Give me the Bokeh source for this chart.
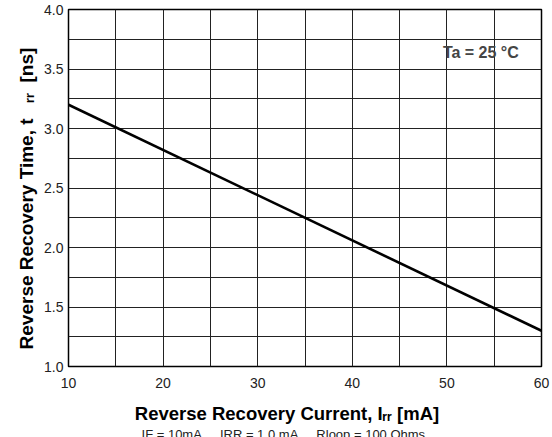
from bokeh.plotting import figure
from bokeh.models import FixedTicker, Label, Range1d, NumeralTickFormatter, LinearAxis
from bokeh.embed import file_html
from bokeh.resources import INLINE

# data
irr = [10, 60]          # Reverse recovery current [mA]
trr = [3.2, 1.3]        # Reverse recovery time [ns]
x_ticks = [10, 20, 30, 40, 50, 60]
y_ticks = [1.0, 1.5, 2.0, 2.5, 3.0, 3.5, 4.0]
x_grid = [15, 20, 25, 30, 35, 40, 45, 50, 55]
y_grid = [1.25, 1.5, 1.75, 2.0, 2.25, 2.5, 2.75, 3.0, 3.25, 3.5, 3.75]

FONT = "Liberation Sans"
NB = "\u00a0"

p = figure(width=552, height=437, output_backend="svg", toolbar_location=None,
           x_range=Range1d(10, 60), y_range=Range1d(1.0, 4.0),
           min_border_left=68, min_border_right=11, min_border_top=9, min_border_bottom=71,
           frame_width=473, frame_height=357)
p.background_fill_color = "white"
p.border_fill_color = "white"
p.outline_line_color = "black"
p.outline_line_width = 1.5

p.xaxis.ticker = FixedTicker(ticks=x_ticks)
p.yaxis.ticker = FixedTicker(ticks=y_ticks)
p.yaxis.formatter = NumeralTickFormatter(format="0.0")
for ax in (p.xaxis[0], p.yaxis[0]):
    ax.axis_line_color = None
    ax.major_tick_line_color = None
    ax.minor_tick_line_color = None
    ax.major_tick_out = 0
    ax.major_tick_in = 0
    ax.major_label_text_font = FONT
    ax.major_label_text_font_size = "14px"
    ax.major_label_text_color = "#222222"
    ax.axis_label_text_font = FONT
    ax.axis_label_text_font_style = "bold"
    ax.axis_label_text_color = "black"
p.xaxis.axis_label_text_font_size = "18.5px"
p.yaxis.axis_label_text_font_size = "19px"
p.xaxis.major_label_standoff = 11
p.yaxis.major_label_standoff = 5
p.xaxis.axis_label = "Reverse Recovery Current, I\u1d63\u1d63 [mA]" + NB * 7
p.yaxis.axis_label = "Reverse Recovery Time, t" + NB * 3 + "\u1d63\u1d63" + NB * 2 + "[ns]" + NB * 4
p.xaxis.axis_label_standoff = 12
p.yaxis.axis_label_standoff = 4

# second (empty) axis below, carrying the test-condition note
note = LinearAxis(ticker=FixedTicker(ticks=[]), axis_line_color=None,
                  major_tick_line_color=None, minor_tick_line_color=None,
                  major_tick_out=0, major_tick_in=0, major_label_standoff=0,
                  major_label_text_font_size="0px",
                  axis_label="IF = 10mA" + NB * 5 + "IRR = 1.0 mA" + NB * 5 + "Rloop = 100 Ohms" + NB * 12,
                  axis_label_text_font=FONT, axis_label_text_font_style="normal",
                  axis_label_text_font_size="13px", axis_label_text_color="#222222",
                  axis_label_standoff=0)
p.add_layout(note, "below")

p.xgrid.ticker = FixedTicker(ticks=x_grid)
p.ygrid.ticker = FixedTicker(ticks=y_grid)
for g in (p.xgrid[0], p.ygrid[0]):
    g.grid_line_color = "#222222"
    g.grid_line_width = 1

p.line(irr, trr, line_color="black", line_width=2.6)

# annotation (placed in data space, inside the plot frame)
p.add_layout(Label(x=57.6, y=3.64, text="Ta = 25 °C", text_font=FONT,
                   text_font_style="bold", text_font_size="16px",
                   text_align="right", text_baseline="alphabetic"))

html = file_html(p, INLINE)
html = html.replace("<body>", "<body style=\"overflow:hidden\">", 1)
open("out.html", "w").write(html)
